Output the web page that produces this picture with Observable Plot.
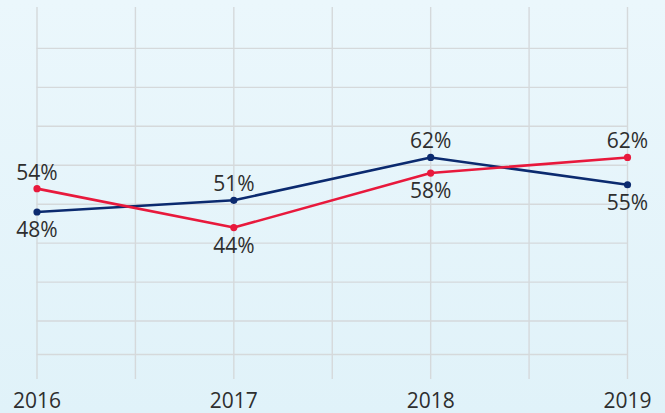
<!DOCTYPE html>
<html>
<head>
<meta charset="utf-8">
<script src="https://cdn.jsdelivr.net/npm/d3@7"></script>
<script src="https://cdn.jsdelivr.net/npm/@observablehq/plot@0.6"></script>
<style>
  html, body { margin: 0; padding: 0; }
  body {
    width: 665px; height: 413px; overflow: hidden;
    background: linear-gradient(to bottom, #ebf7fc 0%, #e0f2f9 100%);
    font-family: "Open Sans", "Noto Sans", sans-serif;
  }
  svg { display: block; }
</style>
</head>
<body>
<div id="chart"></div>
<script>
const years = [2016, 2017, 2018, 2019];
const blueValues = [48, 51, 62, 55];
const redValues = [54, 44, 58, 62];
const xGrid = [2016, 2016.5, 2017, 2017.5, 2018, 2018.5, 2019];
const yGrid = [90, 80, 70, 60, 50, 40, 30, 20, 11.4];

const BLUE = "#0b2a6f";
const RED = "#e8193c";

const rows = [];
years.forEach((yr, i) => {
  const b = blueValues[i], r = redValues[i];
  rows.push({year: yr, value: b, series: "blue", above: b >= r});
  rows.push({year: yr, value: r, series: "red", above: r > b});
});
const blueRows = rows.filter(d => d.series === "blue");
const redRows = rows.filter(d => d.series === "red");

const chart = Plot.plot({
  width: 665,
  height: 413,
  marginLeft: 36.5,
  marginRight: 38,
  marginTop: 7,
  marginBottom: 34,
  style: {background: "transparent", fontFamily: "'Open Sans', 'Noto Sans', sans-serif"},
  x: {domain: [2016, 2019]},
  y: {domain: [5, 100.5], axis: null},
  marks: [
    Plot.ruleX(xGrid, {y1: 5, y2: 100.5, stroke: "#d5d9db", strokeWidth: 1.4}),
    Plot.ruleY(yGrid, {x1: 2016, x2: 2019, stroke: "#d5d9db", strokeWidth: 1.4}),
    Plot.axisX(years, {
      tickSize: 0, tickPadding: 14, fontSize: 21, fill: "#2e2e2e", label: null,
      tickFormat: d => String(d)
    }),
    Plot.line(blueRows, {x: "year", y: "value", stroke: BLUE, strokeWidth: 2.6}),
    Plot.line(redRows, {x: "year", y: "value", stroke: RED, strokeWidth: 2.6}),
    Plot.dot(blueRows, {x: "year", y: "value", fill: BLUE, r: 3.6}),
    Plot.dot(redRows, {x: "year", y: "value", fill: RED, r: 3.6}),
    Plot.text(rows.filter(d => d.above), {
      x: "year", y: "value", text: d => d.value + "%",
      lineAnchor: "bottom", dy: -9, fontSize: 21, fill: "#2e2e2e"
    }),
    Plot.text(rows.filter(d => !d.above), {
      x: "year", y: "value", text: d => d.value + "%",
      lineAnchor: "top", dy: 10, fontSize: 21, fill: "#2e2e2e"
    })
  ]
});
document.getElementById("chart").appendChild(chart);
</script>
</body>
</html>
